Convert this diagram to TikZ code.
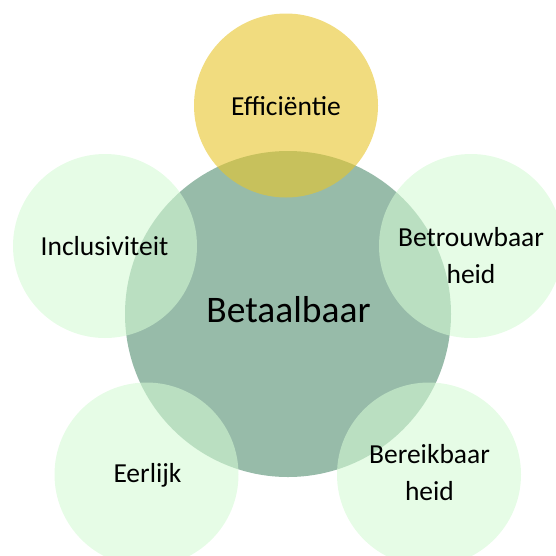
\documentclass[tikz,border=0pt]{standalone}
\usepackage{fontspec}
\setmainfont{Carlito}
\definecolor{cmain}{RGB}{151,187,169}
\definecolor{csmall}{RGB}{212,250,212}
\definecolor{cyellow}{RGB}{232,197,42}
\tikzset{
  bubble/.style={circle, draw=none, inner sep=0pt, minimum size=184pt},
  smallbubble/.style={bubble, fill=csmall, fill opacity=0.58},
  lbl/.style={font=\fontsize{27.5}{37}\selectfont, anchor=base, align=center, inner sep=0pt, text=black},
}
\begin{document}
\begin{tikzpicture}[x=1pt,y=-1pt]
\useasboundingbox (0,0) rectangle (556,555);
\node[bubble, minimum size=326pt, fill=cmain] (main) at (288,314) {};
\node[smallbubble] (incl) at (105,246) {};
\node[smallbubble] (betr) at (471,246) {};
\node[smallbubble] (eerl) at (146.5,474.5) {};
\node[smallbubble] (bere) at (429,474.5) {};
\node[bubble, fill=cyellow, fill opacity=0.6] (effi) at (286,105.5) {};
\node[lbl, font=\fontsize{37.5}{45}\selectfont] (tmain) at (288.5,322) {Betaalbaar};
\node[lbl] (teffi) at (286,115) {Efficiëntie};
\node[lbl] (tincl) at (104.5,255) {Inclusiviteit};
\node[lbl] (tbetr) at (471,283) {Betrouwbaar\\heid};
\node[lbl] (teerl) at (147.5,482) {Eerlijk};
\node[lbl] (tbere) at (429.5,500) {Bereikbaar\\heid};
\end{tikzpicture}
\end{document}
